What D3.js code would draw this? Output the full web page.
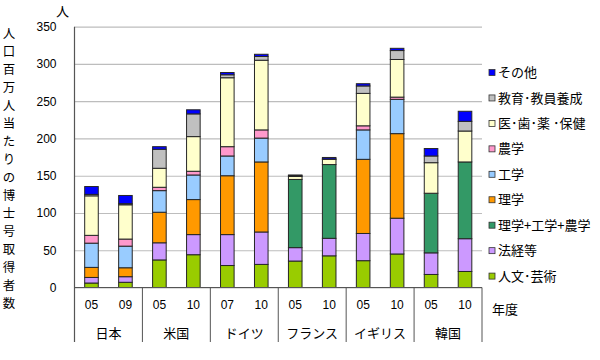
<!DOCTYPE html>
<html lang="ja">
<head>
<meta charset="UTF-8">
<title>人口百万人当たりの博士号取得者数</title>
<script src="https://d3js.org/d3.v7.min.js"></script>
<style>
  body { margin: 0; background: #fff; }
  svg { display: block; }
  text { font-family: "Noto Sans CJK JP", sans-serif; fill: #000; }
  .num { font-family: "Liberation Sans", Arial, sans-serif; font-size: 12px; }
  .grid line { stroke: #bdbdbd; stroke-width: 1.2; }
  .grid path { stroke: none; }
  .seg { stroke: #262626; stroke-width: 1; }
</style>
</head>
<body>
<div id="chart"></div>
<script>
// Countries and survey years (two bars per country)
const categories = ["日本", "米国", "ドイツ", "フランス", "イギリス", "韓国"];
const years = [["05", "09"], ["05", "10"], ["07", "10"], ["05", "10"], ["05", "10"], ["05", "10"]];

// Series values per bar, in bar order (JP05, JP09, US05, US10, ...)
const jinbun = [6, 7, 37, 44, 29.5, 31, 35.5, 42.5, 36, 45, 17.5, 21.5];
const hokei = [7.5, 7.5, 23, 27, 41.5, 43.5, 18, 23.5, 36.5, 48, 29, 44];
const rikoNo = [0, 0, 0, 0, 0, 0, 91.5, 99, 0, 0, 80, 103];
const rigaku = [13.5, 12, 41, 47, 79, 94, 0, 0, 99.5, 113.5, 0, 0];
const kogaku = [32.5, 29, 29, 33, 26.5, 32, 0, 0, 39.5, 46, 0, 0];
const nogaku = [10.5, 9.5, 4.5, 5, 12.5, 11, 0, 0, 5.5, 3, 0, 0];
const iyaku = [53, 46, 25.5, 46.5, 92.5, 93.5, 4, 7, 43.5, 50.5, 41, 41.5];
const kyoiku = [2, 1.5, 25.5, 30.5, 4, 5, 1, 0.5, 10, 12, 9, 13];
const sonota = [10.5, 11, 3.5, 5.5, 3, 3, 1, 2, 3, 3, 10, 13.5];

const yTicks = [0, 50, 100, 150, 200, 250, 300, 350];

// Stack order, bottom to top
const series = [
  { name: "人文･芸術", values: jinbun, color: "#99cc00" },
  { name: "法経等", values: hokei, color: "#cc99ff" },
  { name: "理学+工学+農学", values: rikoNo, color: "#339966" },
  { name: "理学", values: rigaku, color: "#ff9900" },
  { name: "工学", values: kogaku, color: "#99ccff" },
  { name: "農学", values: nogaku, color: "#ff99cc" },
  { name: "医･歯･薬 ･保健", values: iyaku, color: "#ffffcc" },
  { name: "教育･教員養成", values: kyoiku, color: "#c0c0c0" },
  { name: "その他", values: sonota, color: "#0000ff" }
];

const W = 600, H = 360;
const plotLeft = 74.5, plotRight = 482, plotTop = 26.7, plotBottom = 287.5;

const svg = d3.select("#chart").append("svg")
  .attr("width", W).attr("height", H);

// Build table for d3.stack
const bars = [];
categories.forEach((c, i) => {
  years[i].forEach((yr, j) => {
    const row = { id: c + yr + j, country: c, year: yr };
    series.forEach(s => { row[s.name] = s.values[bars.length]; });
    bars.push(row);
  });
});

const stacked = d3.stack().keys(series.map(s => s.name))(bars);

const x = d3.scaleBand().domain(bars.map(d => d.id))
  .range([plotLeft, plotRight]).paddingInner(0.6).paddingOuter(0.3);
const xGroup = d3.scaleBand().domain(categories).range([plotLeft, plotRight]);
const y = d3.scaleLinear().domain([0, 350]).range([plotBottom, plotTop]);

// Gridlines
svg.append("g")
  .attr("class", "grid")
  .attr("transform", `translate(${plotLeft},0)`)
  .call(d3.axisLeft(y).tickValues(yTicks).tickSize(-(plotRight - plotLeft)).tickFormat(""));

// Y tick labels
const yAxis = svg.append("g")
  .attr("transform", `translate(${plotLeft},0)`)
  .call(d3.axisLeft(y).tickValues(yTicks).tickSize(0).tickPadding(18));
yAxis.select(".domain").remove();
yAxis.attr("font-family", null).attr("font-size", null);
yAxis.selectAll("text").attr("class", "num");

// Bars
svg.append("g")
  .selectAll("g")
  .data(stacked)
  .join("g")
  .attr("fill", (d, i) => series[i].color)
  .selectAll("rect")
  .data(d => d.filter(p => p[1] - p[0] > 0))
  .join("rect")
  .attr("class", "seg")
  .attr("x", d => x(d.data.id))
  .attr("width", x.bandwidth())
  .attr("y", d => y(d[1]))
  .attr("height", d => y(d[0]) - y(d[1]));

// Axes lines
const axisBottomY = 342;
svg.append("line")
  .attr("x1", plotLeft).attr("x2", plotLeft).attr("y1", plotTop).attr("y2", axisBottomY)
  .attr("stroke", "#555").attr("stroke-width", 1.2);
svg.append("line")
  .attr("x1", plotLeft).attr("x2", plotRight).attr("y1", plotBottom).attr("y2", plotBottom)
  .attr("stroke", "#555").attr("stroke-width", 1.2);

// Group separators
svg.append("g")
  .selectAll("line")
  .data(categories)
  .join("line")
  .attr("x1", d => xGroup(d) + xGroup.bandwidth())
  .attr("x2", d => xGroup(d) + xGroup.bandwidth())
  .attr("y1", plotBottom).attr("y2", axisBottomY)
  .attr("stroke", "#555").attr("stroke-width", 1);

// Year labels
svg.append("g")
  .selectAll("text")
  .data(bars)
  .join("text")
  .attr("class", "num")
  .attr("x", d => x(d.id) + x.bandwidth() / 2)
  .attr("y", 305)
  .attr("dy", "0.35em")
  .attr("text-anchor", "middle")
  .text(d => d.year);

// Country labels
svg.append("g")
  .selectAll("text")
  .data(categories)
  .join("text")
  .attr("x", d => xGroup(d) + xGroup.bandwidth() / 2)
  .attr("y", 333)
  .attr("dy", "0.35em")
  .attr("text-anchor", "middle")
  .attr("font-size", 13)
  .text(d => d);

svg.append("text")
  .attr("x", 492).attr("y", 309).attr("dy", "0.35em")
  .attr("font-size", 13)
  .text("年度");

// Unit label
svg.append("text")
  .attr("x", 62.5).attr("y", 11.5).attr("dy", "0.35em")
  .attr("text-anchor", "middle").attr("font-size", 13)
  .text("人");

// Vertical y title, one character per line
const yTitle = "人口百万人当たりの博士号取得者数";
svg.append("g")
  .selectAll("text")
  .data(Array.from(yTitle))
  .join("text")
  .attr("x", 9)
  .attr("y", (d, i) => 34 + i * 18)
  .attr("dy", "0.35em")
  .attr("text-anchor", "middle")
  .attr("font-size", 12.4)
  .text(d => d);

// Legend (reverse of stack order)
const legend = svg.append("g")
  .selectAll("g")
  .data(series.slice().reverse())
  .join("g")
  .attr("transform", (d, i) => `translate(489,${72.5 + i * 25.45})`);
legend.append("rect")
  .attr("x", 0).attr("y", -3).attr("width", 6).attr("height", 6)
  .attr("fill", d => d.color).attr("stroke", "#333").attr("stroke-width", 0.8);
legend.append("text")
  .attr("x", 9).attr("dy", "0.35em")
  .attr("font-size", 13)
  .text(d => d.name);
</script>
</body>
</html>
